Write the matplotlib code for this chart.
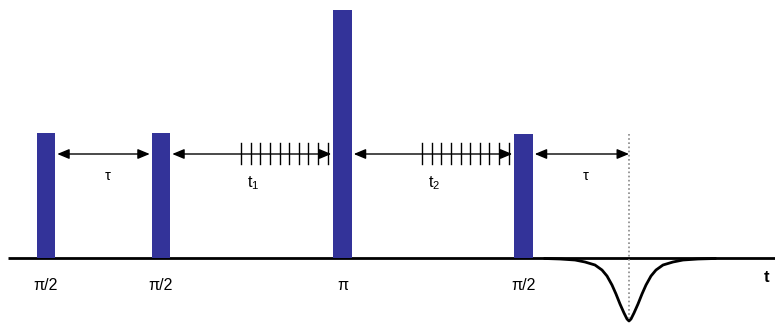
import matplotlib
matplotlib.use("Agg")
import matplotlib.pyplot as plt

# ---- data (diagram coordinates: x = time axis in px units, y = amplitude above baseline) ----
pulse_times = [46, 161, 342.5, 523.5]          # pulse centres
pulse_heights = [125, 125, 248, 124]          # pulse amplitudes
pulse_labels = ["π/2", "π/2", "π", "π/2"]
echo_time = 629
echo_x = [545, 560, 575, 585, 595, 602, 607, 612, 616, 620, 624, 627, 629,
          631, 634, 638, 642, 646, 651, 656, 663, 673, 683, 698, 715]
echo_y = [-0.5, -1, -2, -4, -7, -12, -18, -27, -36, -46, -55, -61, -63,
          -61, -55, -46, -36, -27, -18, -12, -7, -4, -2, -1, -0.5]
interval_labels = ["τ", "t$_1$", "t$_2$", "τ"]
n_increments = 10
axis_label = "t"

# ---- styling ----
PULSE_W = 18.5
PULSE_COLOR = "#333399"
FONT = "Liberation Sans"
plt.rcParams["mathtext.fontset"] = "custom"
plt.rcParams["mathtext.rm"] = FONT
plt.rcParams["mathtext.it"] = FONT

fig = plt.figure(figsize=(7.75, 3.25), dpi=100)
ax = fig.add_axes([0, 0, 1, 1])
ax.set_xlim(0, 775)
ax.set_ylim(-67, 258)
ax.axis("off")

# baseline
ax.plot([8, 775], [0, 0], color="black", lw=2.0, solid_capstyle="butt", zorder=2)

# pulses
ax.bar(pulse_times, pulse_heights, width=PULSE_W, color=PULSE_COLOR, zorder=3)

# pulse labels
for t, lab in zip(pulse_times, pulse_labels):
    ax.text(t, -27, lab, ha="center", va="center", fontsize=11.5, family=FONT)

# echo
ax.plot(echo_x, echo_y, color="black", lw=2.0, zorder=4, solid_joinstyle="round")
ax.plot([echo_time, echo_time], [124, -62], color="#888888", lw=1.2,
        linestyle=(0, (1, 1.5)), zorder=5)

# interval arrows
arrow_y = 104
edges_left = [p + PULSE_W / 2 + 2 for p in pulse_times]
edges_right = [p - PULSE_W / 2 - 2 for p in pulse_times[1:]] + [echo_time]
for i, (a, b) in enumerate(zip(edges_left, edges_right)):
    ax.annotate("", xy=(b, arrow_y), xytext=(a, arrow_y),
                arrowprops=dict(arrowstyle="<|-|>,head_length=0.6,head_width=0.25",
                                color="black", lw=1.0,
                                mutation_scale=12, shrinkA=0, shrinkB=0),
                zorder=6)
    mid = (a + b) / 2
    lab = interval_labels[i]
    if lab == "τ":
        ax.text(mid + 4, 82, lab, ha="center", va="center", fontsize=10.5, family=FONT)
    else:
        ax.text(b - 78, 75, lab, ha="center", va="center", fontsize=11.5, family=FONT)
    if i in (1, 2):
        start = b - 90
        step = 9.6
        for k in range(n_increments):
            x = start + k * step
            ax.plot([x, x], [94, 115], color="black", lw=1.0, zorder=6)

ax.text(767, -19, axis_label, ha="center", va="center", fontsize=12,
        fontweight="bold", family=FONT)

fig.savefig("out.png", dpi=100)
